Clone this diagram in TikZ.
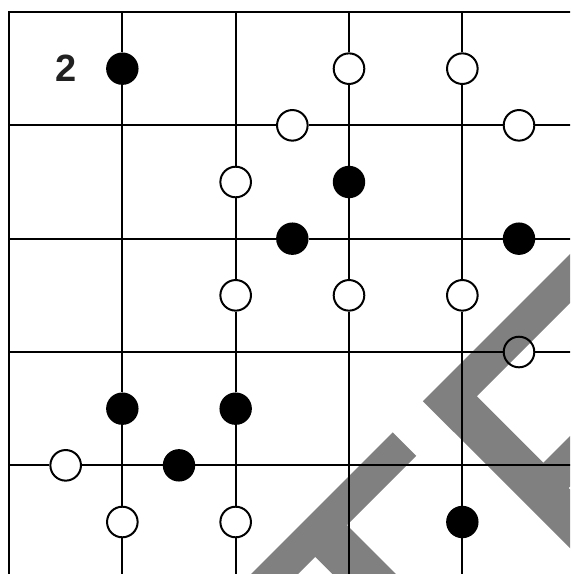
\documentclass[tikz,border=0pt]{standalone}
\usepackage{fontspec}
\newfontfamily\numfont{Liberation Sans}
\usetikzlibrary{positioning}

\begin{document}
\begin{tikzpicture}[x=113.33pt, y=-113.33pt,
        gridline/.style={line width=2pt},
        frameline/.style={line width=2.6pt},
        opendot/.style={circle, draw, line width=2pt, minimum size=30.6pt, inner sep=0pt},
        fulldot/.style={opendot, fill=black, minimum size=30.4pt}]
        \useasboundingbox (-0.0794,-0.1059) rectangle (4.9506,4.9588);
        \clip (-0.0794,-0.1059) rectangle (4.9506,4.9588);
        % watermark
        \begin{scope}[x=1pt, y=-1pt, shift={(-9pt,12pt)}]
            \fill[gray] (392.7,432.3) -- (416.25,455.75) -- (347,525) -- (422,600)
                -- (358.4,600) -- (315.2,556.8) -- (272,600) -- (225,600) -- cycle;
            \fill[gray] (600,224) -- (422.85,401.15) -- (600,578) -- (600,519.5)
                -- (568.55,488.05) -- (600,456.6) -- (600,406) -- (543.25,462.75)
                -- (476.75,396.25) -- (600,273) -- cycle;
        \end{scope}
        % ends of the lines
        \coordinate (nw) at (0,0);
        \coordinate (e0) at (5.2,0);
        \coordinate (s0) at (0,5.2);
        \foreach \i in {1,...,4} {
            \coordinate (n\i) at (\i,0);
            \coordinate (s\i) at (\i,5.2);
            \coordinate (w\i) at (0,\i);
            \coordinate (e\i) at (5.2,\i);
        }
        % label
        \node[font=\numfont\bfseries\fontsize{38}{40}\selectfont, text=black!87] (num) at (0.5,0.5) {2};
        % dots on vertical lines
        \node[fulldot] (v1a) at (1,0.5) {};
        \node[fulldot] (v1b) at (1,3.5) {};
        \node[opendot] (v1c) at (1,4.5) {};
        \node[opendot] (v2a) at (2,1.5) {};
        \node[opendot] (v2b) at (2,2.5) {};
        \node[fulldot] (v2c) at (2,3.5) {};
        \node[opendot] (v2d) at (2,4.5) {};
        \node[opendot] (v3a) at (3,0.5) {};
        \node[fulldot] (v3b) at (3,1.5) {};
        \node[opendot] (v3c) at (3,2.5) {};
        \node[opendot] (v4a) at (4,0.5) {};
        \node[opendot] (v4b) at (4,2.5) {};
        \node[fulldot] (v4c) at (4,4.5) {};
        % dots on horizontal lines
        \node[opendot] (h1a) at (2.5,1) {};
        \node[opendot] (h1b) at (4.5,1) {};
        \node[fulldot] (h2a) at (2.5,2) {};
        \node[fulldot] (h2b) at (4.5,2) {};
        \node[opendot] (h3a) at (4.5,3) {};
        \node[opendot] (h4a) at (0.5,4) {};
        \node[fulldot] (h4b) at (1.5,4) {};
        % grid
        \draw[gridline] (n1) -- (v1a) -- (v1b) -- (v1c) -- (s1);
        \draw[gridline] (n2) -- (v2a) -- (v2b) -- (v2c) -- (v2d) -- (s2);
        \draw[gridline] (n3) -- (v3a) -- (v3b) -- (v3c) -- (s3);
        \draw[gridline] (n4) -- (v4a) -- (v4b) -- (v4c) -- (s4);
        \draw[gridline] (w1) -- (h1a) -- (h1b) -- (e1);
        \draw[gridline] (w2) -- (h2a) -- (h2b) -- (e2);
        \draw[gridline] (w3) -- (h3a) -- (e3);
        \draw[gridline] (w4) -- (h4a) -- (h4b) -- (e4);
        % frame
        \draw[frameline] (e0) -- (nw) -- (s0);
\end{tikzpicture}
\end{document}
